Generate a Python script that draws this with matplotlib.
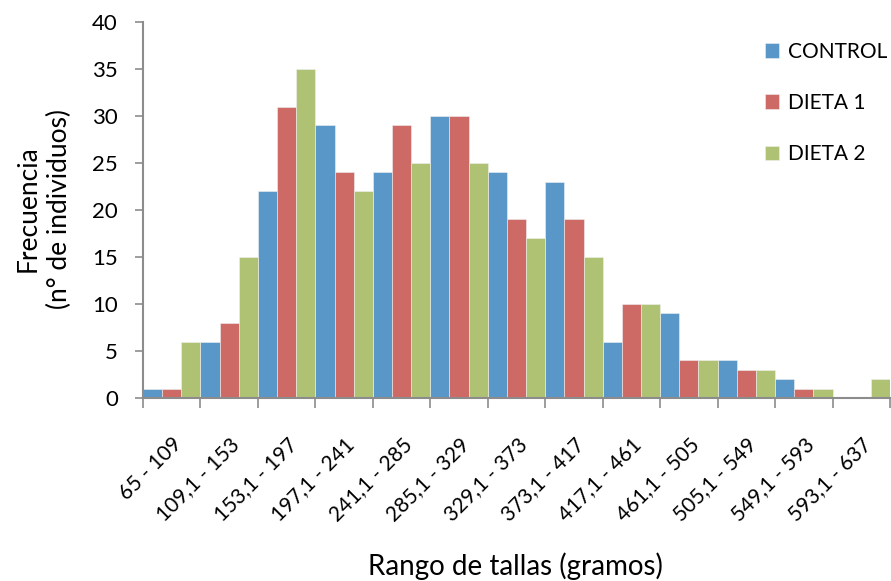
import matplotlib
matplotlib.use('Agg')
import matplotlib.pyplot as plt
import numpy as np

plt.rcParams['font.family'] = ['Lato', 'DejaVu Sans']

# Data
rangos = ['65 - 109', '109,1 - 153', '153,1 - 197', '197,1 - 241', '241,1 - 285',
          '285,1 - 329', '329,1 - 373', '373,1 - 417', '417,1 - 461', '461,1 - 505',
          '505,1 - 549', '549,1 - 593', '593,1 - 637']
control = [1, 6, 22, 29, 24, 30, 24, 23, 6, 9, 4, 2, 0]
dieta1 = [1, 8, 31, 24, 29, 30, 19, 19, 10, 4, 3, 1, 0]
dieta2 = [6, 15, 35, 22, 25, 25, 17, 15, 10, 4, 3, 1, 2]

series = [('CONTROL', control, '#5A97C9'),
          ('DIETA 1', dieta1, '#CD6A65'),
          ('DIETA 2', dieta2, '#AFC274')]

fig = plt.figure(figsize=(8.91, 5.81), dpi=100)
ax = fig.add_axes([143/891, 1 - 398/581, 747/891, 376/581])

x = np.arange(len(rangos))
w = 1/3
for i, (name, vals, col) in enumerate(series):
    ax.bar(x - 0.5 + w/2 + i*w, vals, width=w, color=col, label=name,
           edgecolor='#f0f0f0', linewidth=0.4)

ax.set_xlim(-0.5, len(rangos) - 0.5)
ax.set_ylim(0, 40)
ax.set_yticks(range(0, 41, 5))
ax.tick_params(axis='y', labelsize=16, color='#8c8c8c', length=6, width=1.2, pad=12)

# ticks at category boundaries, labels at centers
ax.set_xticks(np.arange(-0.5, len(rangos), 1))
ax.set_xticklabels([])
ax.tick_params(axis='x', which='major', color='#8c8c8c', length=7, width=1.2)
ax.set_xticks(x, minor=True)
ax.set_xticklabels(rangos, minor=True, rotation=45, ha='right',
                   rotation_mode='anchor', fontsize=15)
ax.tick_params(axis='x', which='minor', length=0, pad=26)

for s in ['top', 'right']:
    ax.spines[s].set_visible(False)
for s in ['left', 'bottom']:
    ax.spines[s].set_color('#8c8c8c')
    ax.spines[s].set_linewidth(1.5)

fig.text(44/891, 1 - 209/581, 'Frecuencia\n(n° de individuos)', rotation=90,
         ha='center', va='center', fontsize=19, linespacing=1.3)
fig.text(515/891, 1 - 566/581, 'Rango de tallas (gramos)', ha='center',
         va='center', fontsize=20)

ax.legend(loc='upper left', bbox_to_anchor=(746/891, 1 - 23/581),
          bbox_transform=fig.transFigure, frameon=False, fontsize=15,
          handlelength=0.7, handleheight=0.7, labelspacing=1.5,
          handletextpad=0.4)

fig.savefig('out.png', dpi=100)
